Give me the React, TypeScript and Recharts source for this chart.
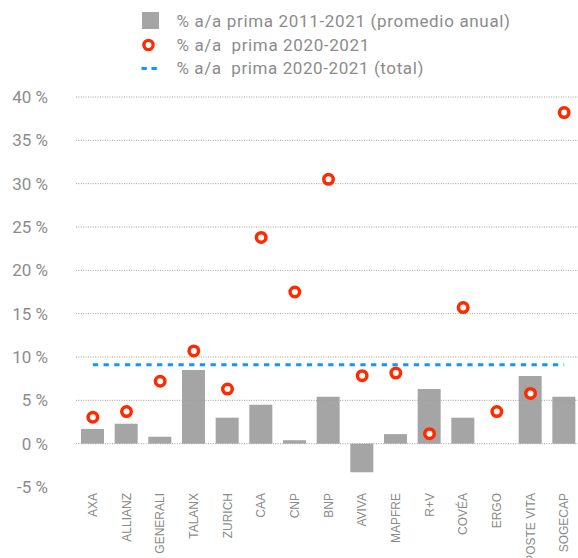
import React from 'react';
import { ComposedChart, Bar, Line, XAxis, YAxis, ReferenceLine, Legend } from 'recharts';

const categories = ['AXA', 'ALLIANZ', 'GENERALI', 'TALANX', 'ZURICH', 'CAA', 'CNP', 'BNP', 'AVIVA', 'MAPFRE', 'R+V', 'COVÉA', 'ERGO', 'POSTE VITA', 'SOGECAP'];
const avg2011_2021 = [1.7, 2.3, 0.8, 8.5, 3.0, 4.5, 0.4, 5.4, -3.3, 1.1, 6.3, 3.0, 0, 7.8, 5.4];
const growth2020_2021 = [3.05, 3.7, 7.2, 10.7, 6.3, 23.8, 17.5, 30.5, 7.85, 8.15, 1.15, 15.7, 3.7, 5.8, 38.2];
const total2020_2021 = 9.1;
const yTicks = [-5, 0, 5, 10, 15, 20, 25, 30, 35, 40];
const gridValues = [0, 5, 10, 15, 20, 25, 30, 35, 40];
const legendLabels = ['% a/a prima 2011-2021 (promedio anual)', '% a/a  prima 2020-2021', '% a/a  prima 2020-2021 (total)'];

const data = categories.map((name, i) => ({
  name,
  avg: avg2011_2021[i],
  growth: growth2020_2021[i],
  total: total2020_2021,
}));

const GREY_TEXT = '#8c8c8c';
const BAR = '#a5a5a5';
const RED = '#ff2a00';
const BLUE = '#0f97ff';

const LegendContent = () => (
  <svg width={578} height={85} style={{ display: 'block' }}>
    <rect x={142} y={12} width={17} height={17} fill={BAR} />
    <circle cx={148.5} cy={45} r={4.6} fill="#fff" stroke={RED} strokeWidth={3.4} />
    <line x1={141.5} x2={146.8} y1={68.5} y2={68.5} stroke={BLUE} strokeWidth={3} />
    <line x1={151.5} x2={156.8} y1={68.5} y2={68.5} stroke={BLUE} strokeWidth={3} />
    {legendLabels.map((t, i) => (
      <text
        key={t}
        x={176.5}
        y={[26.8, 51, 74.4][i]}
        fill={GREY_TEXT}
        fontFamily="Roboto"
        fontSize={17}
        textLength={[333.5, 192.8, 246.8][i]}
        style={{ whiteSpace: 'pre' }}
      >
        {t}
      </text>
    ))}
  </svg>
);

const XTick = (props: any) => {
  const { x, y, payload } = props;
  return (
    <g transform={`translate(${x},${y + 6})`}>
      <text
        transform="rotate(-90)"
        textAnchor="end"
        dy="0.35em"
        fill="#8a8a8a"
        fontFamily="'Liberation Sans', Arial, sans-serif"
        fontSize={12}
      >
        {payload.value}
      </text>
    </g>
  );
};

export default function App() {
  return (
    <div style={{ position: 'absolute', left: 0, top: 0, width: 578, height: 558, overflow: 'hidden', background: '#fff' }}>
      <ComposedChart
        width={581}
        height={558}
        data={data}
        margin={{ top: 97, right: 0, bottom: 0, left: 0 }}
        barCategoryGap={0}
      >
        <XAxis
          dataKey="name"
          interval={0}
          axisLine={false}
          tickLine={false}
          tickSize={0}
          tickMargin={0}
          height={71}
          tick={<XTick />}
        />
        <YAxis
          width={76}
          domain={[-5, 40]}
          ticks={yTicks}
          interval={0}
          axisLine={false}
          tickLine={false}
          tickSize={0}
          tickMargin={28}
          tickFormatter={(v: number) => `${v} %`}
          tick={{ fill: GREY_TEXT, fontFamily: 'Roboto', fontSize: 17 }}
        />
        {gridValues.map((v) => (
          <ReferenceLine key={v} y={v} stroke="#a0a0a0" strokeWidth={1} strokeDasharray="1 1.4" />
        ))}
        <Bar dataKey="avg" fill={BAR} barSize={23} isAnimationActive={false} />
        <Line
          dataKey="total"
          stroke={BLUE}
          strokeWidth={3}
          strokeDasharray="5.3 5.4"
          dot={false}
          activeDot={false}
          isAnimationActive={false}
        />
        <Line
          dataKey="growth"
          stroke="none"
          dot={{ r: 4.75, fill: '#fff', stroke: RED, strokeWidth: 3.5 }}
          activeDot={false}
          isAnimationActive={false}
        />
        <Legend
          layout="vertical"
          align="center"
          verticalAlign="middle"
          content={<LegendContent />}
          wrapperStyle={{ position: 'absolute', left: 0, top: 0, width: 578, height: 85 }}
        />
      </ComposedChart>
    </div>
  );
}
